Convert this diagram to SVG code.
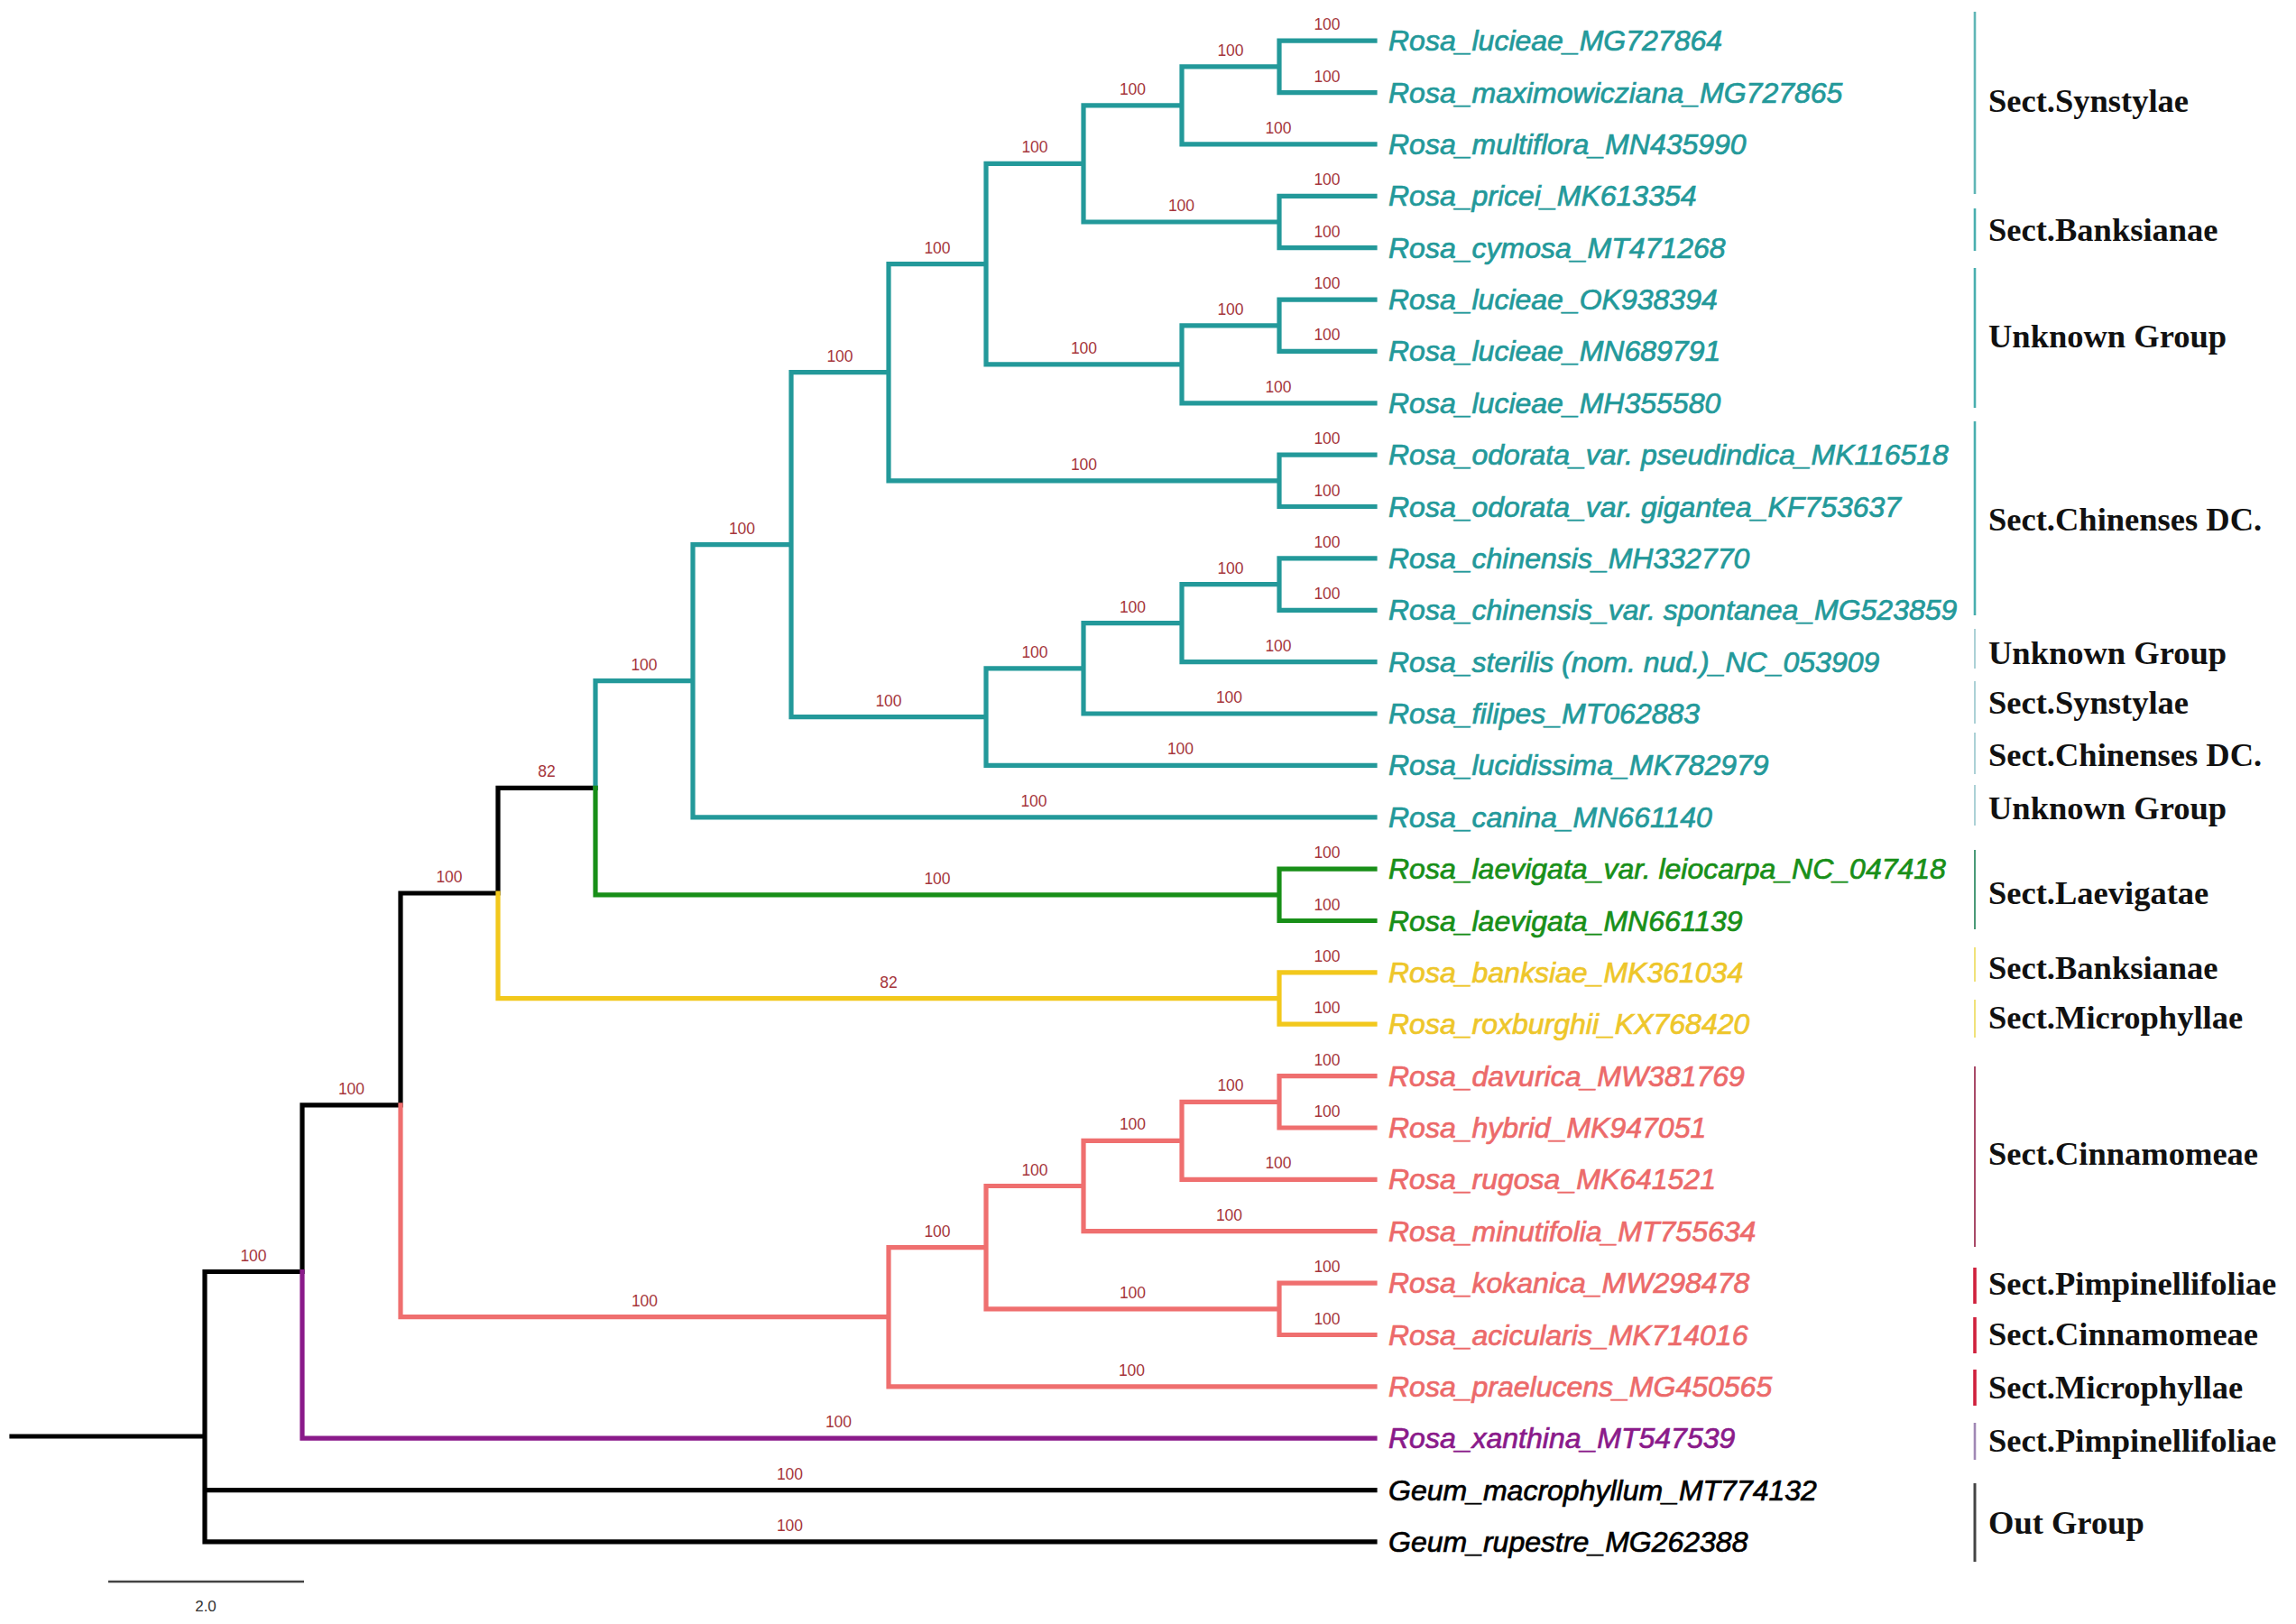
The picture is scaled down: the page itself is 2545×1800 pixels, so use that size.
<svg xmlns="http://www.w3.org/2000/svg" width="2545" height="1800" viewBox="0 0 2545 1800">
<style>
.br{fill:none;stroke-width:5.2;stroke-linejoin:miter;stroke-linecap:square}
.k{stroke:#000}.t{stroke:#23999a}.g{stroke:#188f18}.y{stroke:#f2c81c}.p{stroke:#ef6f6f}.u{stroke:#8a1a8a}
.bs{font-family:"Liberation Sans",Arial,sans-serif;font-size:17.5px;fill:#a6363c;text-anchor:middle}
.lf{font-family:"Liberation Sans",Arial,sans-serif;font-size:32px;font-style:italic;stroke-width:0.7}
.tt{fill:#23999a;stroke:#23999a}.gt{fill:#188f18;stroke:#188f18}.yt{fill:#eec62a;stroke:#eec62a}.pt{fill:#ec6a6a;stroke:#ec6a6a}.ut{fill:#8a1a8a;stroke:#8a1a8a}.kt{fill:#000;stroke:#000}
.sec{font-family:"Liberation Serif","Times New Roman",serif;font-size:36.5px;font-weight:bold;fill:#111}
.bar{stroke-width:2.6}
</style>
<rect width="2545" height="1800" fill="#fff"/>
<g id="connectors">
<path class="br k" d="M13 1592H227M227 1592V1409.5H335M227 1592V1651.6H1524M227 1592V1708.9H1524M335 1409.5V1224.9H444M444 1224.9V990H552M552 990V873.3H660"/>
<path class="br t" d="M1418 73.9V45.2H1524M1418 73.9V102.6H1524M1310 116.9V73.9H1418M1310 116.9V159.9H1524M1418 246V217.3H1524M1418 246V274.7H1524M1201 181.4V116.9H1310M1201 181.4V246H1418M1418 360.8V332.1H1524M1418 360.8V389.4H1524M1310 403.8V360.8H1418M1310 403.8V446.8H1524M1093 292.6V181.4H1201M1093 292.6V403.8H1310M1418 532.9V504.2H1524M1418 532.9V561.5H1524M985 412.7V292.6H1093M985 412.7V532.9H1418M1418 647.6V618.9H1524M1418 647.6V676.3H1524M1310 690.6V647.6H1418M1310 690.6V733.6H1524M1201 740.8V690.6H1310M1201 740.8V791H1524M1093 794.6V740.8H1201M1093 794.6V848.4H1524M877 603.7V412.7H985M877 603.7V794.6H1093M768 754.7V603.7H877M768 754.7V905.8H1524M660 873.3V754.7H768"/>
<path class="br g" d="M660 873.3V991.8H1418M1418 991.8V963.1H1524M1418 991.8V1020.5H1524"/>
<path class="br y" d="M552 990V1106.6H1418M1418 1106.6V1077.9H1524M1418 1106.6V1135.2H1524"/>
<path class="br p" d="M444 1224.9V1459.7H985M985 1459.7V1382.6H1093M985 1459.7V1536.8H1524M1093 1382.6V1314.5H1201M1093 1382.6V1450.8H1418M1418 1450.8V1422.1H1524M1418 1450.8V1479.5H1524M1201 1314.5V1264.3H1310M1201 1314.5V1364.7H1524M1310 1264.3V1221.3H1418M1310 1264.3V1307.3H1524M1418 1221.3V1192.6H1524M1418 1221.3V1250H1524"/>
<path class="br u" d="M335 1409.5V1594.2H1524"/>
</g>
<g id="support">
<text class="bs" x="1471" y="33.2">100</text><text class="bs" x="1471" y="90.6">100</text>
<text class="bs" x="1364" y="61.9">100</text><text class="bs" x="1417" y="147.9">100</text>
<text class="bs" x="1255.5" y="104.9">100</text><text class="bs" x="1309.5" y="234">100</text>
<text class="bs" x="1471" y="205.3">100</text><text class="bs" x="1471" y="262.7">100</text>
<text class="bs" x="1147" y="169.4">100</text><text class="bs" x="1364" y="348.8">100</text>
<text class="bs" x="1471" y="320.1">100</text><text class="bs" x="1471" y="377.4">100</text>
<text class="bs" x="1417" y="434.8">100</text><text class="bs" x="1201.5" y="391.8">100</text>
<text class="bs" x="1039" y="280.6">100</text><text class="bs" x="1201.5" y="520.9">100</text>
<text class="bs" x="1471" y="492.2">100</text><text class="bs" x="1471" y="549.5">100</text>
<text class="bs" x="931" y="400.7">100</text><text class="bs" x="1364" y="635.6">100</text>
<text class="bs" x="1471" y="606.9">100</text><text class="bs" x="1471" y="664.3">100</text>
<text class="bs" x="1417" y="721.6">100</text><text class="bs" x="1255.5" y="678.6">100</text>
<text class="bs" x="1362.5" y="779">100</text><text class="bs" x="1147" y="728.8">100</text>
<text class="bs" x="1308.5" y="836.4">100</text><text class="bs" x="985" y="782.6">100</text>
<text class="bs" x="822.5" y="591.7">100</text><text class="bs" x="1146" y="893.8">100</text>
<text class="bs" x="714" y="742.7">100</text>
<text class="bs" x="1039" y="979.8">100</text><text class="bs" x="1471" y="951.1">100</text><text class="bs" x="1471" y="1008.5">100</text>
<text class="bs" x="606" y="861.3">82</text><text class="bs" x="498" y="978">100</text>
<text class="bs" x="389.5" y="1212.9">100</text><text class="bs" x="281" y="1397.5">100</text>
<text class="bs" x="875.5" y="1639.6">100</text><text class="bs" x="875.5" y="1696.9">100</text>
<text class="bs" x="985" y="1094.6">82</text><text class="bs" x="1471" y="1065.9">100</text><text class="bs" x="1471" y="1123.2">100</text>
<text class="bs" x="714.5" y="1447.7">100</text><text class="bs" x="1039" y="1370.6">100</text>
<text class="bs" x="1254.5" y="1524.8">100</text><text class="bs" x="1147" y="1302.5">100</text>
<text class="bs" x="1255.5" y="1438.8">100</text><text class="bs" x="1471" y="1410.1">100</text>
<text class="bs" x="1471" y="1467.5">100</text><text class="bs" x="1255.5" y="1252.3">100</text>
<text class="bs" x="1362.5" y="1352.7">100</text><text class="bs" x="1364" y="1209.3">100</text>
<text class="bs" x="1417" y="1295.3">100</text><text class="bs" x="1471" y="1180.6">100</text>
<text class="bs" x="1471" y="1238">100</text><text class="bs" x="929.5" y="1582.2">100</text>
</g>
<g id="taxa">
<g id="leaf00"><text class="lf tt" x="1539" y="56.2">Rosa_lucieae_MG727864</text></g>
<g id="leaf01"><text class="lf tt" x="1539" y="113.6">Rosa_maximowicziana_MG727865</text></g>
<g id="leaf02"><text class="lf tt" x="1539" y="170.9">Rosa_multiflora_MN435990</text></g>
<g id="leaf03"><text class="lf tt" x="1539" y="228.3">Rosa_pricei_MK613354</text></g>
<g id="leaf04"><text class="lf tt" x="1539" y="285.7">Rosa_cymosa_MT471268</text></g>
<g id="leaf05"><text class="lf tt" x="1539" y="343.1">Rosa_lucieae_OK938394</text></g>
<g id="leaf06"><text class="lf tt" x="1539" y="400.4">Rosa_lucieae_MN689791</text></g>
<g id="leaf07"><text class="lf tt" x="1539" y="457.8">Rosa_lucieae_MH355580</text></g>
<g id="leaf08"><text class="lf tt" x="1539" y="515.2">Rosa_odorata_var. pseudindica_MK116518</text></g>
<g id="leaf09"><text class="lf tt" x="1539" y="572.5">Rosa_odorata_var. gigantea_KF753637</text></g>
<g id="leaf10"><text class="lf tt" x="1539" y="629.9">Rosa_chinensis_MH332770</text></g>
<g id="leaf11"><text class="lf tt" x="1539" y="687.3">Rosa_chinensis_var. spontanea_MG523859</text></g>
<g id="leaf12"><text class="lf tt" x="1539" y="744.6">Rosa_sterilis (nom. nud.)_NC_053909</text></g>
<g id="leaf13"><text class="lf tt" x="1539" y="802">Rosa_filipes_MT062883</text></g>
<g id="leaf14"><text class="lf tt" x="1539" y="859.4">Rosa_lucidissima_MK782979</text></g>
<g id="leaf15"><text class="lf tt" x="1539" y="916.8">Rosa_canina_MN661140</text></g>
<g id="leaf16"><text class="lf gt" x="1539" y="974.1">Rosa_laevigata_var. leiocarpa_NC_047418</text></g>
<g id="leaf17"><text class="lf gt" x="1539" y="1031.5">Rosa_laevigata_MN661139</text></g>
<g id="leaf18"><text class="lf yt" x="1539" y="1088.9">Rosa_banksiae_MK361034</text></g>
<g id="leaf19"><text class="lf yt" x="1539" y="1146.2">Rosa_roxburghii_KX768420</text></g>
<g id="leaf20"><text class="lf pt" x="1539" y="1203.6">Rosa_davurica_MW381769</text></g>
<g id="leaf21"><text class="lf pt" x="1539" y="1261">Rosa_hybrid_MK947051</text></g>
<g id="leaf22"><text class="lf pt" x="1539" y="1318.3">Rosa_rugosa_MK641521</text></g>
<g id="leaf23"><text class="lf pt" x="1539" y="1375.7">Rosa_minutifolia_MT755634</text></g>
<g id="leaf24"><text class="lf pt" x="1539" y="1433.1">Rosa_kokanica_MW298478</text></g>
<g id="leaf25"><text class="lf pt" x="1539" y="1490.5">Rosa_acicularis_MK714016</text></g>
<g id="leaf26"><text class="lf pt" x="1539" y="1547.8">Rosa_praelucens_MG450565</text></g>
<g id="leaf27"><text class="lf ut" x="1539" y="1605.2">Rosa_xanthina_MT547539</text></g>
<g id="leaf28"><text class="lf kt" x="1539" y="1662.6">Geum_macrophyllum_MT774132</text></g>
<g id="leaf29"><text class="lf kt" x="1539" y="1719.9">Geum_rupestre_MG262388</text></g>
</g>
<g id="sections">
<g id="sec01"><line class="bar" x1="2189" y1="13" x2="2189" y2="215" stroke="#5fb6b6"/><text class="sec" x="2204" y="124">Sect.Synstylae</text></g>
<g id="sec02"><line class="bar" x1="2189" y1="231" x2="2189" y2="278" stroke="#48aeae" stroke-width="3"/><text class="sec" x="2204" y="267">Sect.Banksianae</text></g>
<g id="sec03"><line class="bar" x1="2189" y1="297" x2="2189" y2="452" stroke="#48aeae" stroke-width="3"/><text class="sec" x="2204" y="385">Unknown Group</text></g>
<g id="sec04"><line class="bar" x1="2189" y1="467" x2="2189" y2="682" stroke="#48aeae" stroke-width="3"/><text class="sec" x="2204" y="588">Sect.Chinenses DC.</text></g>
<g id="sec05"><line x1="2189" y1="697" x2="2189" y2="741" stroke="#a4cdd2" stroke-width="1.8"/><text class="sec" x="2204" y="736">Unknown Group</text></g>
<g id="sec06"><line x1="2189" y1="755" x2="2189" y2="802" stroke="#a4cdd2" stroke-width="1.8"/><text class="sec" x="2204" y="791">Sect.Synstylae</text></g>
<g id="sec07"><line x1="2189" y1="812" x2="2189" y2="858" stroke="#a4cdd2" stroke-width="1.8"/><text class="sec" x="2204" y="849">Sect.Chinenses DC.</text></g>
<g id="sec08"><line x1="2189" y1="870" x2="2189" y2="915" stroke="#a4cdd2" stroke-width="1.8"/><text class="sec" x="2204" y="908">Unknown Group</text></g>
<g id="sec09"><line x1="2189" y1="942" x2="2189" y2="1030" stroke="#4a9a78" stroke-width="2"/><text class="sec" x="2204" y="1002">Sect.Laevigatae</text></g>
<g id="sec10"><line x1="2189" y1="1050" x2="2189" y2="1088" stroke="#f0e27a" stroke-width="2"/><text class="sec" x="2204" y="1085">Sect.Banksianae</text></g>
<g id="sec11"><line x1="2189" y1="1108" x2="2189" y2="1150" stroke="#f0e27a" stroke-width="2"/><text class="sec" x="2204" y="1140">Sect.Microphyllae</text></g>
<g id="sec12"><line x1="2189" y1="1182" x2="2189" y2="1382" stroke="#a84a68" stroke-width="2"/><text class="sec" x="2204" y="1291">Sect.Cinnamomeae</text></g>
<g id="sec13"><line x1="2189" y1="1405" x2="2189" y2="1445" stroke="#d0203c" stroke-width="3.6"/><text class="sec" x="2204" y="1435">Sect.Pimpinellifoliae</text></g>
<g id="sec14"><line x1="2189" y1="1460" x2="2189" y2="1500" stroke="#d0203c" stroke-width="3.6"/><text class="sec" x="2204" y="1491">Sect.Cinnamomeae</text></g>
<g id="sec15"><line x1="2189" y1="1518" x2="2189" y2="1558" stroke="#d0203c" stroke-width="3.6"/><text class="sec" x="2204" y="1550">Sect.Microphyllae</text></g>
<g id="sec16"><line x1="2189" y1="1577" x2="2189" y2="1618" stroke="#a088b4" stroke-width="2.6"/><text class="sec" x="2204" y="1609">Sect.Pimpinellifoliae</text></g>
<g id="sec17"><line x1="2189" y1="1644" x2="2189" y2="1731" stroke="#444" stroke-width="3"/><text class="sec" x="2204" y="1700">Out Group</text></g>
</g>
<g id="scale">
<line x1="120" y1="1753" x2="337" y2="1753" stroke="#444" stroke-width="2.5"/>
<text x="228" y="1786" font-family="'Liberation Sans',Arial,sans-serif" font-size="17" fill="#333" text-anchor="middle">2.0</text>
</g>
</svg>
